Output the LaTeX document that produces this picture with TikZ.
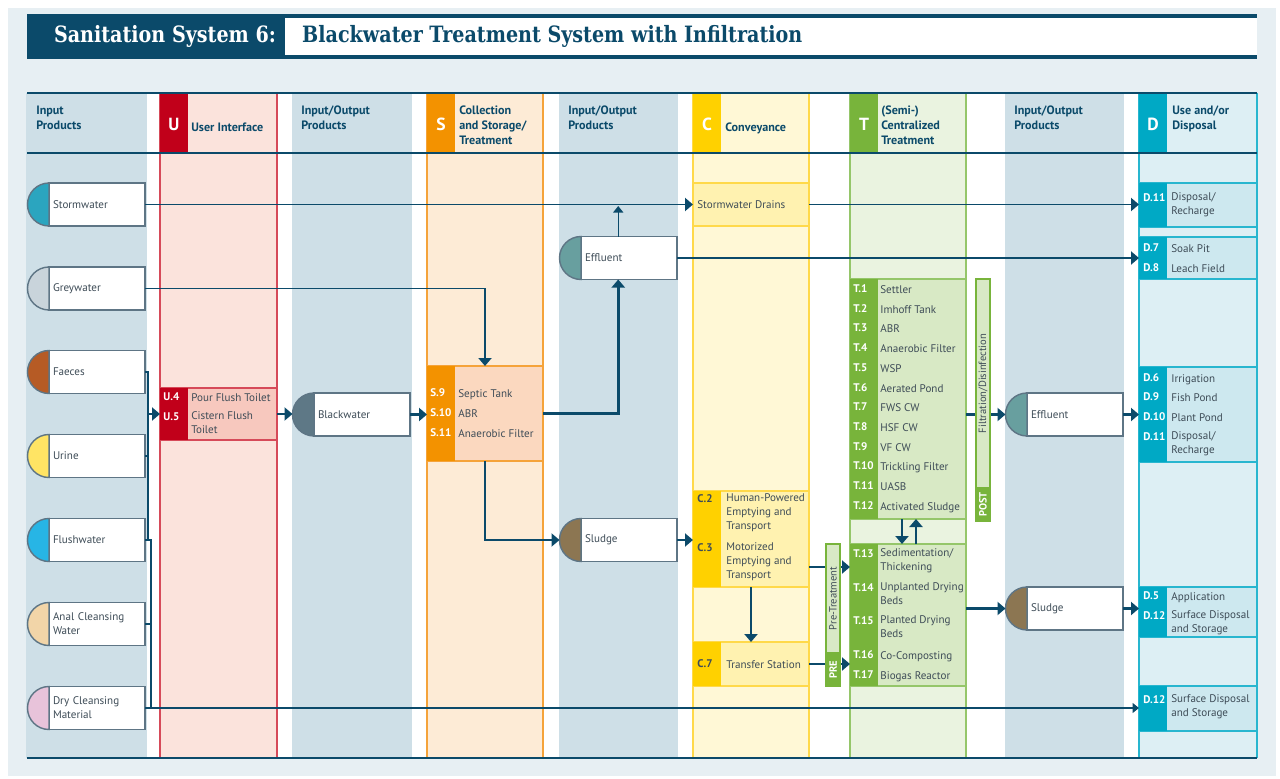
\documentclass[tikz,border=0pt]{standalone}
\usepackage{fontspec}
\setmainfont{PT Sans}
\newfontfamily\ttlfont{DejaVu Serif}[FakeStretch=0.85]
\usetikzlibrary{arrows.meta}

\definecolor{navy}{HTML}{0B4A6A}
\definecolor{bgc}{HTML}{E7EFF3}
\definecolor{txt}{HTML}{3E4C57}
\definecolor{prodedge}{HTML}{5E7585}
\definecolor{fillg}{HTML}{CEDFE7}
\definecolor{edgeg}{HTML}{CEDFE7}
\definecolor{fillu}{HTML}{FBE3DC}
\definecolor{edgeu}{HTML}{D64A59}
\definecolor{codeu}{HTML}{C1001A}
\definecolor{boxu}{HTML}{F7C8BE}
\definecolor{fills}{HTML}{FDEBD6}
\definecolor{edges}{HTML}{F5A33A}
\definecolor{codes}{HTML}{F39200}
\definecolor{boxs}{HTML}{FBD8BF}
\definecolor{fillc}{HTML}{FFF8D6}
\definecolor{edgec}{HTML}{FFD94A}
\definecolor{codec}{HTML}{FFD100}
\definecolor{boxc}{HTML}{FFF2B0}
\definecolor{fillt}{HTML}{EAF3E0}
\definecolor{edget}{HTML}{95C66A}
\definecolor{codet}{HTML}{78B43B}
\definecolor{boxt}{HTML}{D8E9C5}
\definecolor{filld}{HTML}{DDEFF4}
\definecolor{edged}{HTML}{28B6CF}
\definecolor{coded}{HTML}{00A9C5}
\definecolor{boxd}{HTML}{CDE8EF}
\definecolor{pStorm}{HTML}{2BA5BF}
\definecolor{pGrey}{HTML}{C9D4DB}
\definecolor{pFaeces}{HTML}{B65B25}
\definecolor{pUrine}{HTML}{FFE464}
\definecolor{pFlush}{HTML}{27B5E5}
\definecolor{pAnal}{HTML}{F2D5A8}
\definecolor{pDry}{HTML}{E8C3DA}
\definecolor{pBlack}{HTML}{5E7886}
\definecolor{pEffl}{HTML}{689F9F}
\definecolor{pSludge}{HTML}{8C7652}

\newcommand\txtfont{\fontsize{6.3}{7.9}\selectfont}
\newcommand\hdfont{\fontsize{6.9}{8.5}\selectfont\bfseries}

\begin{document}
\begin{tikzpicture}[x=0.2mm, y=-0.2mm,
  sz/.style 2 args={minimum width=#1*0.2mm, minimum height=#2*0.2mm},
  prod/.style={rectangle, draw=prodedge, line width=0.8pt, fill=white, inner xsep=0.8mm, inner ysep=0pt, outer sep=0pt, text width=17.6mm, minimum height=8.6mm, align=left, font=\txtfont, text=txt},
  bx/.style={rectangle, line width=0.7pt, inner sep=0pt, outer sep=0pt},
  cd/.style={anchor=base west, inner sep=0pt, yshift=-0.7mm, font=\txtfont\bfseries, text=white},
  it/.style={anchor=north west, inner sep=0pt, yshift=1.1mm, align=left, font=\txtfont, text=txt, execute at begin node=\strut},
  hd/.style={anchor=north west, inner sep=0pt, yshift=0.95mm, align=left, font=\hdfont, text=navy, execute at begin node=\strut},
  lt/.style={font=\fontsize{10}{12}\selectfont\bfseries, text=white, inner sep=0pt},
  bus/.style={draw=navy, line width=1.5pt},
  arr/.style={bus, -{Triangle[length=1.6mm, width=2.6mm]}},
  ln/.style={draw=navy, line width=1.1pt, -{Triangle[length=1.6mm, width=2.6mm]}},
  thn/.style={draw=navy, line width=0.75pt, -{Triangle[length=1.3mm, width=2mm]}},
  bar/.style={rectangle, draw=codet, line width=0.8pt, fill=boxt, rotate=90, minimum height=2.8mm, inner sep=0pt, font=\fontsize{6}{7}\selectfont, text=txt},
  tag/.style={bar, fill=codet, font=\fontsize{6}{7}\selectfont\bfseries, text=white}
]
\useasboundingbox (0,0) rectangle (1280,779);
\fill[bgc] (8,8) rectangle (1276,776);
\fill[navy] (27,14) rectangle (1257,59);
\fill[white] (285,18) rectangle (1257,55);
\node[font=\ttlfont\fontsize{12.8}{15}\selectfont\bfseries, text=white] (ttl) at (165,36.5) {Sanitation System 6:};
\node[font=\ttlfont\fontsize{12.8}{15}\selectfont\bfseries, text=navy, anchor=west] (sub) at (296,36.5) {Blackwater Treatment System with Infiltration};
\fill[white] (27,93) rectangle (1257,758);

\foreach \a/\b/\cl in {27/146/g, 160/277/u, 293/411/g, 427/543/s, 560/677/g, 693/809/c, 850/966/t, 1006/1123/g, 1139/1257/d}
{
  \fill[fill\cl] (\a,93) rectangle (\b,758);
  \draw[edge\cl, line width=0.7pt] (\a,93) -- (\a,758) (\b,93) -- (\b,758);
}
\foreach \a/\l/\cl in {160/U/u, 427/S/s, 693/C/c, 850/T/t, 1139/D/d}
{
  \fill[code\cl] (\a,93) rectangle (\a+28,153);
  \node[lt] (lt\l) at (\a+14,124) {\l};
}
\foreach \x/\y/\t [count=\i] in {36/110/{Input\\Products}, 191/125/User Interface, 301/110/{Input/Output\\Products}, 459/110/{Collection\\and Storage/\\Treatment}, 568/110/{Input/Output\\Products}, 725/125/Conveyance, 881/110/{(Semi-)\\Centralized\\Treatment}, 1014/110/{Input/Output\\Products}, 1172/110/{Use and/or\\Disposal}}
  \node[hd] (hd\i) at (\x,\y) {\t};
\draw[navy, line width=1.5pt] (27,93) -- (1257,93) (27,153) -- (1257,153) (27,758) -- (1257,758);

\foreach \n/\x/\y/\pc/\t in {storm/97/204.5/pStorm/Stormwater, grey/97/288.5/pGrey/Greywater, faeces/97/372/pFaeces/Faeces, urine/97/456/pUrine/Urine, flush/97/540/pFlush/Flushwater, anal/97/624/pAnal/{Anal Cleansing\\Water}, dry/97/708/pDry/{Dry Cleansing\\Material}, blackw/362/414.5/pBlack/Blackwater, effl/629/258/pEffl/Effluent, sludge/629/540/pSludge/Sludge, efflT/1075/414.5/pEffl/Effluent, sludgeT/1075/608.5/pSludge/Sludge}
{
  \node[prod] (\n) at (\x,\y) {\t};
  \filldraw[draw=prodedge, line width=0.8pt, fill=\pc] (\n.north west) arc[start angle=90, end angle=270, radius=4.3mm] -- cycle;
  \coordinate (\n-w) at ([xshift=-4.3mm]\n.west);
}

\foreach \n/\x/\y/\w/\h/\cl in {uBox/218.5/414/117/52/u, sBox/485/413.5/116/95/s, cDrain/751/204.5/116/43/c, cEmpty/751/539/116/96/c, cTransfer/751/664/116/44/c, tUpper/908/399/116/240/t, tLower/908/615/116/142/t, dStorm/1198/205/118/44/d, dInfil/1198/258/118/42/d, dEffl/1198/414.5/118/95/d, dSludge/1198/612/118/50/d, dDry/1198/708.5/118/45/d}
  \node[bx, draw=edge\cl, fill=box\cl, sz={\w}{\h}] (\n) at (\x,\y) {};
\foreach \n/\cl in {uBox/u, sBox/s, cEmpty/c, cTransfer/c, tUpper/t, tLower/t, dStorm/d, dInfil/d, dEffl/d, dSludge/d, dDry/d}
  \fill[code\cl] (\n.north west) rectangle ([xshift=5.5mm]\n.south west);

\foreach \y/\co/\t [count=\i] in {397/U.4/Pour Flush Toilet, 417/U.5/{Cistern Flush\\Toilet}}
  {\node[cd] (uc\i) at (163,\y) {\co}; \node[it] (ui\i) at (191,\y) {\t};}
\foreach \y/\co/\t [count=\i] in {393/S.9/Septic Tank, 413/S.10/ABR, 433/S.11/Anaerobic Filter}
  {\node[cd] (sc\i) at (430,\y) {\co}; \node[it] (si\i) at (458,\y) {\t};}
\node[it] (ci0) at (697,204) {Stormwater Drains};
\foreach \y/\co/\t [count=\i] in {499/C.2/{Human-Powered\\Emptying and\\Transport}, 548/C.3/{Motorized\\Emptying and\\Transport}, 664/C.7/Transfer Station}
  {\node[cd, text=txt] (cc\i) at (697,\y) {\co}; \node[it] (ci\i) at (726,\y) {\t};}
\foreach \co/\t [count=\i] in {T.1/Settler, T.2/Imhoff Tank, T.3/ABR, T.4/Anaerobic Filter, T.5/WSP, T.6/Aerated Pond, T.7/FWS CW, T.8/HSF CW, T.9/VF CW, T.10/Trickling Filter, T.11/UASB, T.12/Activated Sludge}
  {\node[cd] (tc\i) at (853,{289+19.7*(\i-1)}) {\co}; \node[it] (ti\i) at (880,{289+19.7*(\i-1)}) {\t};}
\foreach \y/\co/\t [count=\i from 13] in {554/T.13/{Sedimentation/\\Thickening}, 588/T.14/{Unplanted Drying\\Beds}, 621/T.15/{Planted Drying\\Beds}, 655/T.16/Co-Composting, 675/T.17/Biogas Reactor}
  {\node[cd] (tc\i) at (853,\y) {\co}; \node[it] (ti\i) at (880,\y) {\t};}
\foreach \y/\co/\t [count=\i] in {198/D.11/{Disposal/\\Recharge}, 248/D.7/Soak Pit, 268/D.8/Leach Field, 378/D.6/Irrigation, 397/D.9/Fish Pond, 417/D.10/Plant Pond, 437/D.11/{Disposal/\\Recharge}, 596/D.5/Application, 616/D.12/{Surface Disposal\\and Storage}, 700/D.12/{Surface Disposal\\and Storage}}
  {\node[cd] (dc\i) at (1143,\y) {\co}; \node[it] (di\i) at (1171,\y) {\t};}

\draw[ln] (storm.east) -- (storm.east -| cDrain.west);
\draw[ln] (cDrain.east) -- (cDrain.east -| dStorm.west);
\path ([xshift=-2.15mm]effl.north) coordinate (eUp) ([xshift=-2.15mm]effl.south) coordinate (eDn);
\draw[thn, shorten >=0.3mm] (eUp) -- (eUp |- cDrain.west);
\draw[ln] (effl.east) -- (effl.east -| dInfil.west);
\draw[ln] (grey.east) -| (sBox.north);
\coordinate (busA) at ([xshift=0.6mm]faeces.east);
\draw[bus] (faeces.east) -- (busA) -- (busA |- flush.east) -- (flush.east);
\draw[bus] (urine.east) -- (busA |- urine.east);
\draw[arr] (busA |- uBox.west) -- (uBox.west);
\coordinate (busB) at ([xshift=1.2mm]flush.east);
\draw[navy, line width=0.75pt] (flush.east) -- (busB) -- (busB |- dry.east);
\draw[navy, line width=0.75pt] (anal.east) -- (busB |- anal.east);
\draw[thn] (dry.east) -- (dry.east -| dDry.west);
\draw[arr] (uBox.east) -- (uBox.east -| blackw-w);
\draw[arr] (blackw.east) -- (blackw.east -| sBox.west);
\draw[arr] (sBox.east) -| (eDn);
\draw[arr] (sBox.south) |- (sludge-w);
\draw[arr] (sludge.east) -- (sludge.east -| cEmpty.west);
\path ([yshift=-5.6mm]cEmpty.east) coordinate (cOut);
\draw[arr] (cOut) -- (cOut -| tLower.west);
\draw[arr] (cEmpty.south) -- (cTransfer.north);
\draw[arr] (cTransfer.east) -- (cTransfer.east -| tLower.west);
\draw[arr] ([xshift=-1.2mm]tUpper.south) -- ([xshift=-1.2mm]tLower.north);
\draw[arr] ([xshift=1.6mm]tLower.north) -- ([xshift=1.6mm]tUpper.south);
\draw[arr] (efflT-w -| tUpper.east) -- (efflT-w);
\draw[arr] (sludgeT-w -| tLower.east) -- (sludgeT-w);
\draw[arr] (efflT.east) -- (efflT.east -| dEffl.west);
\draw[arr] (sludgeT.east) -- (sludgeT.east -| dSludge.west);

\node[bar, minimum width=109*0.2mm] (pre) at (833,598.5) {Pre-Treatment};
\node[tag, minimum width=33*0.2mm] (preTag) at (833,669.5) {PRE};
\node[bar, minimum width=209*0.2mm] (post) at (983,383.5) {Filtration/Disinfection};
\node[tag, minimum width=33*0.2mm] (postTag) at (983,504.5) {POST};
\end{tikzpicture}
\end{document}
